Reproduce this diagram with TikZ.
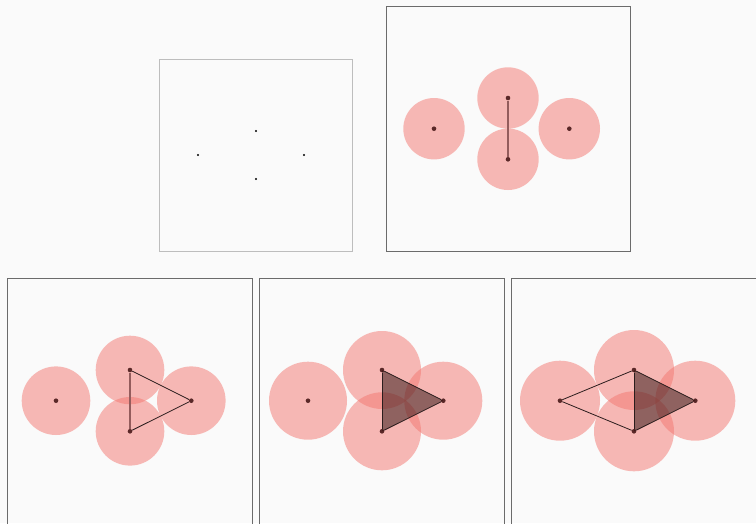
\documentclass[tikz,border=0pt]{standalone}
\usepackage{xcolor}
\usepackage{tikz}
\usetikzlibrary{backgrounds}
\definecolor{cBg}{HTML}{FAFAFA}
\definecolor{cFrameLt}{HTML}{BDBDBD}
\definecolor{cFrame}{HTML}{6B6B6B}
\definecolor{cBall}{HTML}{F4766F}
\definecolor{cPt}{HTML}{5A2828}
\definecolor{cEdge}{HTML}{935C5C}
\definecolor{cInk}{HTML}{2B1D1D}
\definecolor{cTri}{HTML}{2A0E0E}
\tikzset{
  frame/.style    = {draw=cFrame, line width=0.9pt},
  framelt/.style  = {draw=cFrameLt, line width=0.9pt},
  ball/.style     = {fill=cBall, fill opacity=0.5},
  pt/.style       = {circle, fill=cPt, inner sep=0pt, minimum size=4.6pt},
  dot/.style      = {circle, fill=black, inner sep=0pt, minimum size=2.4pt},
  bond/.style     = {draw=cEdge, line width=1.3pt},
  side/.style     = {draw=cInk, line width=0.8pt},
  simplex/.style  = {fill=cTri, fill opacity=0.5},
}

\begin{document}
\begin{tikzpicture}[x=1pt, y=-1pt]
  \clip (0,0) rectangle (756,523);
  % ---- bare point cloud ----
  \draw[framelt] (159.5,59.5) rectangle (352.5,251);
  \node[dot] (t1) at (256,131) {};
  \node[dot] (b1) at (256,179) {};
  \node[dot] (l1) at (198,155) {};
  \node[dot] (r1) at (304,155) {};
  % ---- radius 30.7: one edge ----
  \draw[frame] (386,6.5) rectangle (630.5,251);
  \node[pt] (t2) at (508,98) {};
  \node[pt] (b2) at (508,159.3) {};
  \node[pt] (l2) at (434,128.7) {};
  \node[pt] (r2) at (569.3,128.7) {};
  \draw[bond] (t2) -- (b2);
  % ---- radius 34.3: three edges ----
  \draw[frame] (7.5,278.5) rectangle (252.5,526);
  \node[pt] (t3) at (130,370) {};
  \node[pt] (b3) at (130,431.3) {};
  \node[pt] (l3) at (56,400.7) {};
  \node[pt] (r3) at (191.3,400.7) {};
  \draw[bond] (t3) -- (b3);
  \draw[side] (t3) -- (r3);
  \draw[side] (b3) -- (r3);
  % ---- radius 39: filled triangle ----
  \draw[frame] (259.5,278.5) rectangle (504.5,526);
  \node[pt] (t4) at (382,370) {};
  \node[pt] (b4) at (382,431.3) {};
  \node[pt] (l4) at (308,400.7) {};
  \node[pt] (r4) at (443.3,400.7) {};
  \fill[simplex] (t4.center) -- (b4.center) -- (r4.center) -- cycle;
  \draw[side] (t4) -- (b4);
  \draw[side] (t4) -- (r4);
  \draw[side] (b4) -- (r4);
  % ---- radius 40: left point joins ----
  \draw[frame] (511.5,278.5) rectangle (758,526);
  \node[pt] (t5) at (634,370) {};
  \node[pt] (b5) at (634,431.3) {};
  \node[pt] (l5) at (560,400.7) {};
  \node[pt] (r5) at (695.3,400.7) {};
  \fill[simplex] (t5.center) -- (b5.center) -- (r5.center) -- cycle;
  \draw[side] (t5) -- (b5);
  \draw[side] (t5) -- (r5);
  \draw[side] (b5) -- (r5);
  \draw[side] (l5) -- (t5);
  \draw[side] (l5) -- (b5);
  % balls go under the points and edges
  \begin{scope}[on background layer]
    \fill[cBg] (0,0) rectangle (756,523);
    \foreach \p in {t2,b2,l2,r2} \fill[ball] (\p) circle (30.7pt);
    \foreach \p in {t3,b3,l3,r3} \fill[ball] (\p) circle (34.3pt);
    \foreach \p in {t4,b4,l4,r4} \fill[ball] (\p) circle (39pt);
    \foreach \p in {t5,b5,l5,r5} \fill[ball] (\p) circle (40pt);
  \end{scope}
\end{tikzpicture}
\end{document}
